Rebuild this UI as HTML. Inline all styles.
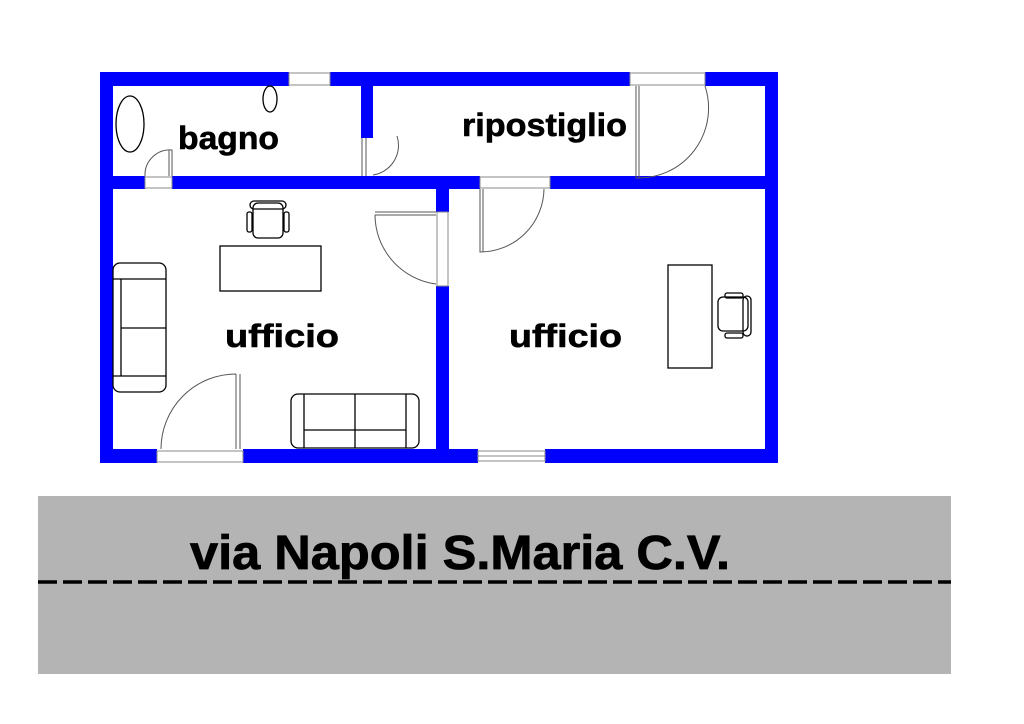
<!DOCTYPE html>
<html><head><meta charset="utf-8"><style>html,body{margin:0;padding:0;background:#fff;}svg{display:block}</style></head>
<body>
<svg width="1024" height="724" viewBox="0 0 1024 724" xmlns="http://www.w3.org/2000/svg" font-family="Liberation Sans, sans-serif" font-weight="bold">
<rect width="1024" height="724" fill="#fff"/>
<g fill="#0000ff">
  <rect x="100" y="72" width="189" height="14"/>
  <rect x="330" y="72" width="300" height="14"/>
  <rect x="705" y="72" width="73" height="14"/>
  <rect x="100" y="72" width="13" height="391"/>
  <rect x="765" y="72" width="13" height="391"/>
  <rect x="100" y="449" width="57" height="14"/>
  <rect x="243" y="449" width="235" height="14"/>
  <rect x="545" y="449" width="233" height="14"/>
  <rect x="100" y="176" width="45" height="13"/>
  <rect x="172" y="176" width="308" height="13"/>
  <rect x="550" y="176" width="228" height="13"/>
  <rect x="361" y="72" width="12" height="66"/>
  <rect x="436" y="176" width="13" height="36"/>
  <rect x="436" y="286" width="13" height="177"/>
</g>
<g fill="none" stroke="#888" stroke-width="1">
  <rect x="289" y="73" width="41" height="12"/>
  <rect x="478" y="451" width="67" height="10"/>
  <line x1="478" y1="456" x2="545" y2="456"/>
  <rect x="157" y="451" width="86" height="11"/>
  <rect x="630" y="73" width="75" height="12"/>
  <rect x="480" y="177" width="70" height="11"/>
  <rect x="145" y="177" width="27" height="11"/>
  <rect x="437" y="212" width="11" height="74"/>
</g>
<g fill="none" stroke="#555" stroke-width="1">
  <path d="M636 86 V178 A70 70 0 0 0 705 86"/>
  <line x1="639" y1="86" x2="639" y2="178"/>
  <path d="M480 189 V252 A64 64 0 0 0 544 189"/>
  <line x1="483" y1="189" x2="483" y2="252"/>
  <path d="M375 212 H436 M375 215 H436 M375 215 A70 70 0 0 0 436 284"/>
  <path d="M236 374 V449 M240 374 V449 M236 374 A75 75 0 0 0 161 449"/>
  <path d="M145 176 A25 25 0 0 1 172 150 V176 M169 150 V176"/>
  <path d="M362 138 V176 M366 138 V176 M397 136 A30 30 0 0 1 373 175"/>
</g>
<g fill="none" stroke="#000" stroke-width="1.3">
  <ellipse cx="130" cy="124" rx="14" ry="28"/>
  <ellipse cx="270" cy="99" rx="7" ry="13"/>
</g>
<g fill="none" stroke="#000" stroke-width="1.3">
  <rect x="220" y="246" width="101" height="45"/>
  <rect x="253" y="203" width="30" height="35" rx="5"/>
  <rect x="250" y="201" width="36" height="8" rx="4"/>
  <rect x="247" y="212" width="5" height="20" rx="2"/>
  <rect x="284" y="212" width="5" height="20" rx="2"/>
  <rect x="668" y="265" width="44" height="103"/>
  <rect x="718" y="297" width="30" height="34" rx="5"/>
  <rect x="743" y="296" width="8" height="40" rx="4"/>
  <rect x="725" y="293" width="18" height="5" rx="2"/>
  <rect x="725" y="333" width="18" height="5" rx="2"/>
  <rect x="113" y="263" width="53" height="129" rx="7"/>
  <line x1="113" y1="279" x2="166" y2="279"/>
  <line x1="113" y1="376" x2="166" y2="376"/>
  <line x1="121" y1="279" x2="121" y2="376"/>
  <line x1="121" y1="328" x2="166" y2="328"/>
  <rect x="291" y="394" width="128" height="54" rx="7"/>
  <line x1="304" y1="394" x2="304" y2="448"/>
  <line x1="406" y1="394" x2="406" y2="448"/>
  <line x1="304" y1="430" x2="406" y2="430"/>
  <line x1="355" y1="394" x2="355" y2="448"/>
</g>
<g fill="#000" font-size="32" stroke="#000" stroke-width="0.6">
  <text x="178" y="149" textLength="101" lengthAdjust="spacingAndGlyphs">bagno</text>
  <text x="462" y="136" textLength="165" lengthAdjust="spacingAndGlyphs">ripostiglio</text>
  <text x="225" y="347" textLength="114" lengthAdjust="spacingAndGlyphs">ufficio</text>
  <text x="509" y="347" textLength="113" lengthAdjust="spacingAndGlyphs">ufficio</text>
</g>
<rect x="38" y="496" width="913" height="178" fill="#b4b4b4"/>
<line x1="38" y1="582" x2="951" y2="582" stroke="#000" stroke-width="3.5" stroke-dasharray="19 6"/>
<text x="190" y="569" font-size="48" fill="#000" stroke="#000" stroke-width="0.8" textLength="540" lengthAdjust="spacingAndGlyphs">via Napoli S.Maria C.V.</text>
</svg>
</body></html>
